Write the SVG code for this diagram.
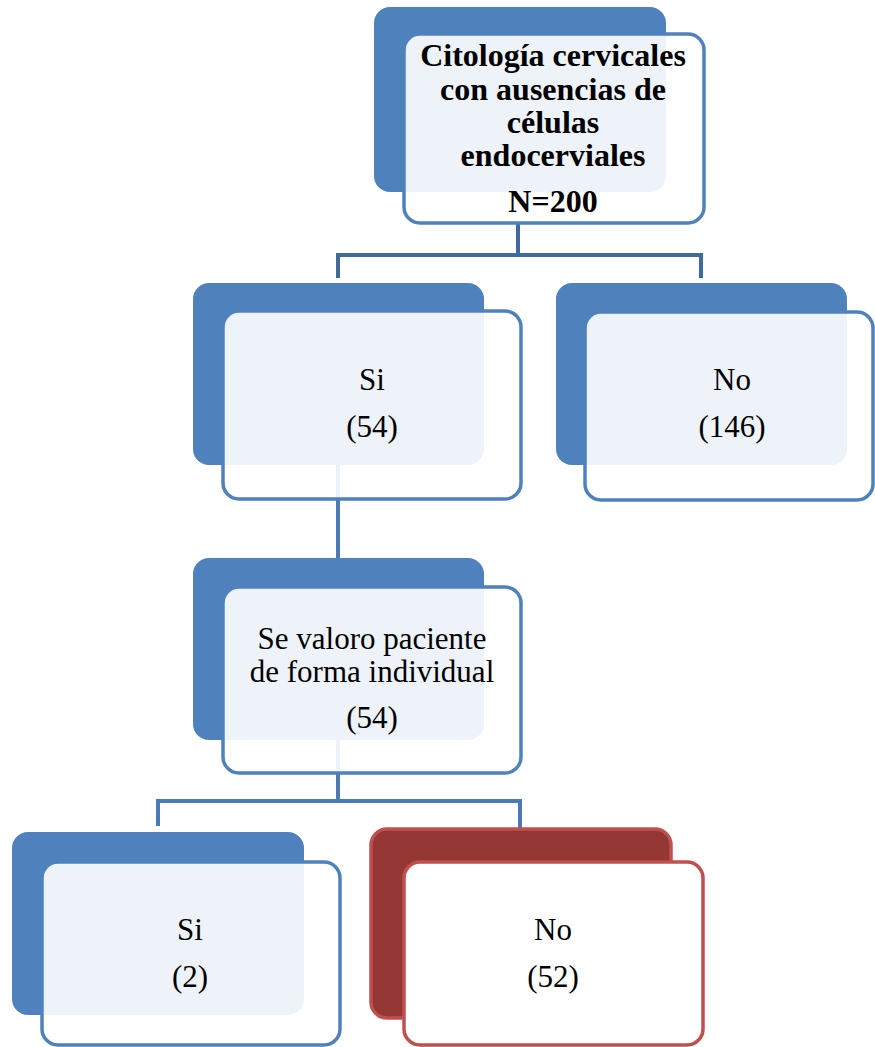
<svg xmlns="http://www.w3.org/2000/svg" width="875" height="1047" viewBox="0 0 875 1047">
  <style>
    .back { fill: #4f81bd; }
    .front { fill: #ffffff; fill-opacity: 0.9; stroke: #4f81bd; stroke-width: 3.5; }
    .rback { fill: #943634; stroke: #c0504d; stroke-width: 3.5; }
    .rfront { fill: #ffffff; stroke: #c0504d; stroke-width: 3.5; }
    .lbl { font-family: "Liberation Serif", "Times New Roman", serif; font-size: 31px; fill: #000000; text-anchor: middle; }
    .bold { font-weight: bold; font-size: 32px; }
    .link { fill: none; stroke-width: 4; }
    .dark { stroke: #3f6b9c; }
    .mid { stroke: #4a7bb7; }
  </style>
  <rect width="875" height="1047" fill="#ffffff"/>

  <!-- connectors -->
  <g id="connectors">
    <path class="link dark" d="M518 224 V255 M338 278 V255 H701 V278"/>
    <path class="link mid" d="M338 465 V560"/>
    <path class="link mid" d="M338 740 V801 M158 826 V801 H520 V828"/>
  </g>

  <!-- root -->
  <g id="node-root">
    <rect class="back" x="374" y="7" width="292" height="185" rx="16"/>
    <rect class="front" x="404" y="34" width="300" height="189" rx="16"/>
    <text class="lbl bold" x="553" y="66">Citología cervicales</text>
    <text class="lbl bold" x="553" y="100">con ausencias de</text>
    <text class="lbl bold" x="553" y="133">células</text>
    <text class="lbl bold" x="553" y="166">endocerviales</text>
    <text class="lbl bold" x="553" y="212">N=200</text>
  </g>

  <g id="node-si">
    <rect class="back" x="193" y="283" width="291" height="182" rx="16"/>
    <rect class="front" x="223" y="311" width="298" height="188" rx="16"/>
    <text class="lbl" x="372" y="390">Si</text>
    <text class="lbl" x="372" y="437">(54)</text>
  </g>

  <g id="node-no">
    <rect class="back" x="556" y="283" width="291" height="182" rx="16"/>
    <rect class="front" x="585" y="312" width="288" height="188" rx="16"/>
    <text class="lbl" x="732" y="390">No</text>
    <text class="lbl" x="732" y="437">(146)</text>
  </g>

  <g id="node-valoro">
    <rect class="back" x="193" y="558" width="291" height="182" rx="16"/>
    <rect class="front" x="223" y="587" width="298" height="186" rx="16"/>
    <text class="lbl" x="372" y="649">Se valoro paciente</text>
    <text class="lbl" x="372" y="682">de forma individual</text>
    <text class="lbl" x="372" y="728">(54)</text>
  </g>

  <g id="node-si-2">
    <rect class="back" x="12" y="832" width="292" height="183" rx="16"/>
    <rect class="front" x="42" y="862" width="298" height="183" rx="16"/>
    <text class="lbl" x="190" y="940">Si</text>
    <text class="lbl" x="190" y="987">(2)</text>
  </g>

  <g id="node-no-52">
    <rect class="rback" x="371" y="829" width="300" height="189" rx="16"/>
    <rect class="rfront" x="404" y="862" width="299" height="183" rx="16"/>
    <text class="lbl" x="553" y="940">No</text>
    <text class="lbl" x="553" y="987">(52)</text>
  </g>
</svg>
